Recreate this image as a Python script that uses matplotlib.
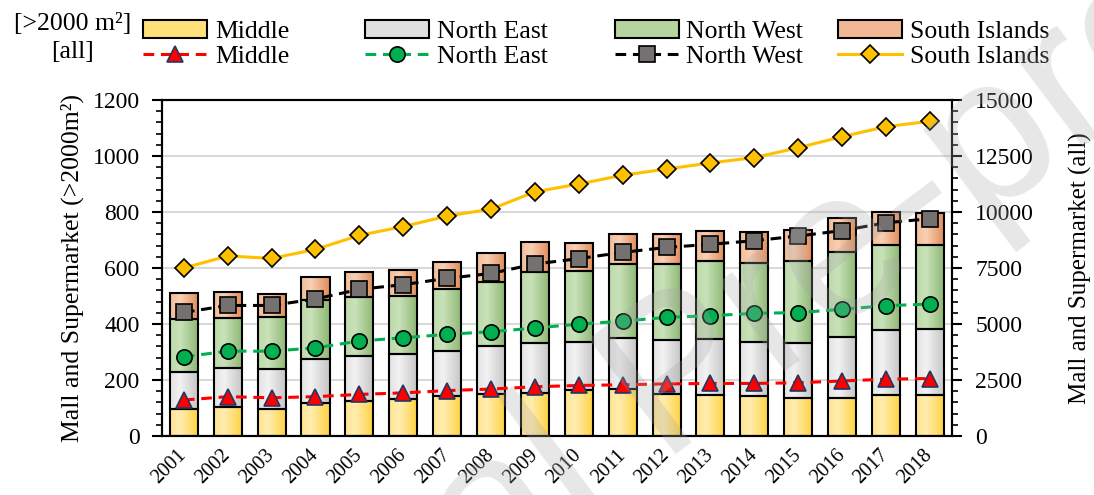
import numpy as np
import matplotlib.pyplot as plt
from matplotlib.colors import LinearSegmentedColormap
from matplotlib.patches import Patch

plt.rcParams['font.family'] = ['Liberation Serif', 'DejaVu Serif']

years = [2001, 2002, 2003, 2004, 2005, 2006, 2007, 2008, 2009,
         2010, 2011, 2012, 2013, 2014, 2015, 2016, 2017, 2018]

# malls and supermarkets > 2000 m2 (stacked bars, left axis)
middle_big = [95, 105, 98, 119, 125, 132, 144, 149, 155, 164, 167, 152, 148, 144, 137, 135, 148, 145]
north_east_big = [133, 137, 140, 157, 161, 160, 161, 174, 177, 173, 184, 190, 200, 192, 195, 220, 231, 236]
north_west_big = [189, 179, 188, 210, 212, 209, 220, 226, 253, 251, 263, 272, 276, 283, 293, 303, 303, 301]
south_big = [95, 92, 81, 81, 88, 92, 96, 106, 107, 102, 109, 108, 108, 110, 112, 121, 118, 114]

# all malls and supermarkets (lines, right axis)
middle_all = [1610, 1760, 1710, 1760, 1860, 1930, 2030, 2100, 2200, 2260, 2290, 2330, 2350, 2350, 2380, 2460, 2540, 2570]
north_east_all = [3540, 3790, 3790, 3940, 4240, 4390, 4540, 4660, 4820, 5000, 5130, 5300, 5370, 5480, 5510, 5660, 5820, 5890]
north_west_all = [5520, 5830, 5830, 6120, 6550, 6760, 7040, 7260, 7680, 7920, 8200, 8420, 8560, 8720, 8930, 9170, 9520, 9700]
south_all = [7500, 8040, 7930, 8330, 8960, 9350, 9820, 10130, 10900, 11250, 11640, 11920, 12190, 12430, 12870, 13360, 13810, 14050]

# gradient stops (left edge, highlight, right edge) and legend colour
grad = {
    'Middle': (['#FFE590', '#FFEDB0', '#FFD23F'], '#FFE07A'),
    'North East': (['#E2E2E2', '#F2F2F2', '#C4C4C4'], '#E0E0E0'),
    'North West': (['#BCD9A9', '#C9E2B9', '#8CB672'], '#B5D5A0'),
    'South Islands': (['#F2BC98', '#F9D0B4', '#DF8B57'], '#F2B896'),
}

fig = plt.figure(figsize=(10.94, 4.95), dpi=100)
ax = fig.add_axes([0.148, 0.119, 0.722, 0.679])
ax2 = ax.twinx()

x = np.arange(len(years))
width = 0.64
bottom = np.zeros(len(years))
gradient_img = np.linspace(0, 1, 64).reshape(1, -1)
for name, vals in [('Middle', middle_big), ('North East', north_east_big),
                   ('North West', north_west_big), ('South Islands', south_big)]:
    stops, _ = grad[name]
    cmap = LinearSegmentedColormap.from_list(name, list(zip([0, 0.35, 1], stops)))
    bars = ax.bar(x, vals, width, bottom=bottom, facecolor='none',
                  edgecolor='black', linewidth=1.5, zorder=3)
    for b in bars:
        x0, y0 = b.get_x(), b.get_y()
        im = ax.imshow(gradient_img, cmap=cmap, aspect='auto', interpolation='bilinear',
                       extent=(x0, x0 + b.get_width(), y0, y0 + b.get_height()), zorder=2)
        im.set_clip_path(b)
    bottom += np.array(vals)

ax.set_xlim(-0.5, len(years) - 0.5)
ax.set_ylim(0, 1200)
ax.set_yticks(np.arange(0, 1201, 200))
ax.set_yticks(np.arange(0, 1201, 40), minor=True)
ax.yaxis.grid(True, color='#D9D9D9', linewidth=1.5, zorder=0)
ax.set_axisbelow(True)
ax.set_xticks(x)
ax.set_xticklabels([str(y) for y in years], rotation=45, ha='right', va='center',
                   rotation_mode='anchor', fontsize=14.5)
ax.tick_params(axis='x', length=0, pad=12)
ax.tick_params(axis='y', which='major', direction='out', length=7, width=1.5,
               labelsize=17, pad=9)
ax.tick_params(axis='y', which='minor', direction='out', length=4, width=1.2)
ax.set_ylabel('Mall and Supermarket (>2000m²)', fontsize=18.5, labelpad=6)

line_styles = [
    ('Middle', middle_all, dict(color='#FF0000', ls=(0, (3.5, 2.2)), marker='^', mfc='#FF0000', mec='#1F3864', ms=12)),
    ('North East', north_east_all, dict(color='#00B050', ls=(0, (3.5, 2.2)), marker='o', mfc='#00B050', mec='black', ms=11)),
    ('North West', north_west_all, dict(color='black', ls=(0, (3.5, 2.2)), marker='s', mfc='#767171', mec='black', ms=11)),
    ('South Islands', south_all, dict(color='#FFC000', ls='-', marker='D', mfc='#FFC000', mec='black', ms=9)),
]
line_handles = []
for name, vals, st in line_styles:
    h, = ax2.plot(x, vals, lw=2.2, mew=1.2, zorder=4, **st)
    line_handles.append(h)

ax2.set_ylim(0, 15000)
ax2.set_yticks(np.arange(0, 15001, 2500))
ax2.set_yticks(np.arange(0, 15001, 500), minor=True)
ax2.tick_params(axis='y', which='major', direction='out', length=7, width=1.5,
                labelsize=17, pad=10)
ax2.tick_params(axis='y', which='minor', direction='out', length=4, width=1.2)
ax2.set_ylabel('Mall and Supermarket (all)', fontsize=18, labelpad=25)

for a in (ax, ax2):
    for s in a.spines.values():
        s.set_linewidth(1.5)

# legend: one small legend per column, bars on top row and lines below
col_x = [0.119, 0.322, 0.550, 0.754]
for i, name in enumerate(grad):
    bar_h = Patch(facecolor=grad[name][1], edgecolor='black', linewidth=1.5)
    fig.legend([bar_h, line_handles[i]], [name, name], loc='upper left',
               bbox_to_anchor=(col_x[i], 0.985), frameon=False, fontsize=18.5,
               handlelength=2.5, handletextpad=0.3, labelspacing=0.05,
               borderaxespad=0.1)

fig.text(0.066, 0.952, '[>2000 m²]', ha='center', va='center', fontsize=18.5)
fig.text(0.066, 0.895, '[all]', ha='center', va='center', fontsize=18.5)

fig.text(0.623, 0.228, 'Journal Pre-proof', rotation=37, fontsize=151, color='#A8A8A8',
         alpha=0.28, ha='center', va='center', family='Liberation Sans', zorder=10)

fig.savefig('out.png', dpi=100)
